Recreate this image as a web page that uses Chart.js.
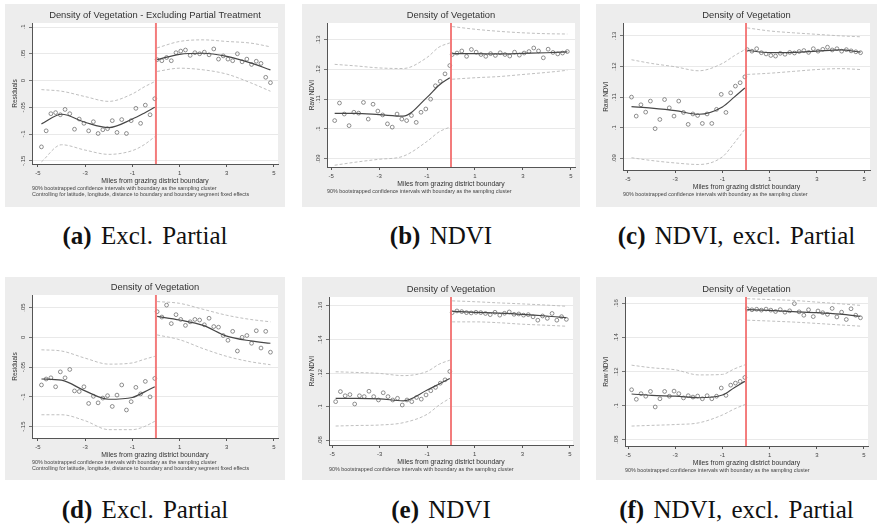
<!DOCTYPE html>
<html>
<head>
<meta charset="utf-8">
<script src="https://cdn.jsdelivr.net/npm/chart.js@4.4.1/dist/chart.umd.min.js"></script>
<style>
  body { margin: 0; background: #fff; width: 877px; height: 526px; position: relative; overflow: hidden; }
  .panel { position: absolute; background: #ededed; }
  .panel canvas { position: absolute; left: 0; top: 0; }
  .cap { position: absolute; font-family: "Liberation Serif", "DejaVu Serif", serif; font-size: 25px; color: #111;
         text-align: center; white-space: nowrap; line-height: 28px; height: 28px; word-spacing: 3px; }
</style>
</head>
<body>
<script>
// bins (miles from boundary) for the scatter points
const milesLeft = [-4.85,-4.65,-4.45,-4.25,-4.05,-3.85,-3.65,-3.45,-3.25,-3.05,-2.85,-2.65,-2.45,-2.25,-2.05,-1.85,-1.65,-1.45,-1.25,-1.05,-0.85,-0.65,-0.45,-0.25,-0.05];
const milesRight = [0.05,0.25,0.45,0.65,0.85,1.05,1.25,1.45,1.65,1.85,2.05,2.25,2.45,2.65,2.85,3.05,3.25,3.45,3.65,3.85,4.05,4.25,4.45,4.65,4.85];
// where the smoothed fit and its bands are read
const fitMilesLeft = [-4.85,-4,-3,-2,-1,-0.5,-0.05];
const fitMilesRight = [0.05,1,2,3,4,4.85];
const xTicks = [-5,-3,-1,1,3,5];
const xTickLabels = ["-5","-3","-1","1","3","5"];

const residTicksA = [0.1,0.05,0,-0.05,-0.1,-0.15];
const residLabelsA = [".1",".05","0","-.05","-.1","-.15"];
const residTicksD = [0.05,0,-0.05,-0.1,-0.15];
const residLabelsD = [".05","0","-.05","-.1","-.15"];
const ndviTicksBC = [0.13,0.12,0.11,0.1,0.09];
const ndviLabelsBC = [".13",".12",".11",".1",".09"];
const ndviTicksEF = [0.16,0.14,0.12,0.1,0.08];
const ndviLabelsEF = [".16",".14",".12",".1",".08"];

// (a)
const aPtsL = [-0.124,-0.094,-0.062,-0.060,-0.064,-0.054,-0.062,-0.091,-0.072,-0.080,-0.094,-0.077,-0.099,-0.092,-0.090,-0.075,-0.097,-0.073,-0.099,-0.075,-0.052,-0.080,-0.046,-0.064,-0.034];
const aPtsR = [0.039,0.037,0.043,0.037,0.052,0.055,0.057,0.047,0.052,0.050,0.053,0.048,0.059,0.040,0.046,0.040,0.037,0.050,0.035,0.040,0.030,0.036,0.032,0.006,-0.004];
const aFitL = [-0.081,-0.063,-0.078,-0.088,-0.072,-0.061,-0.050];
const aFitR = [0.039,0.049,0.051,0.045,0.033,0.020];
const aHiL = [-0.017,-0.020,-0.030,-0.039,-0.025,-0.012,-0.002];
const aHiR = [0.061,0.073,0.076,0.073,0.070,0.063];
const aLoL = [-0.152,-0.120,-0.130,-0.138,-0.131,-0.120,-0.105];
const aLoR = [0.017,0.023,0.020,0.012,-0.004,-0.020];
// (b)
const bPtsL = [0.1028,0.1087,0.1050,0.1011,0.1056,0.1053,0.1089,0.1033,0.1083,0.1060,0.1047,0.1017,0.1006,0.1050,0.1033,0.1028,0.1045,0.1022,0.1056,0.1067,0.1100,0.1145,0.1160,0.1185,0.1213];
const bPtsR = [0.1250,0.1255,0.1262,0.1244,0.1267,0.1258,0.1250,0.1244,0.1253,0.1247,0.1256,0.1250,0.1245,0.1258,0.1248,0.1255,0.1260,0.1272,0.1262,0.1239,0.1268,0.1257,0.1252,0.1255,0.1260];
const bFitL = [0.1052,0.1052,0.1048,0.1043,0.1106,0.1147,0.1172];
const bFitR = [0.1253,0.1253,0.1252,0.1254,0.1256,0.1259];
const bHiL = [0.1217,0.1212,0.1205,0.1203,0.1240,0.1275,0.1289];
const bHiR = [0.1344,0.1335,0.1328,0.1323,0.1320,0.1319];
const bLoL = [0.0878,0.0888,0.0898,0.0908,0.0958,0.0990,0.1006];
const bLoR = [0.1167,0.1172,0.1176,0.1183,0.1190,0.1197];
// (c)
const cPtsL = [0.1100,0.1038,0.1075,0.1051,0.1087,0.0997,0.1027,0.1092,0.1065,0.1038,0.1087,0.1050,0.1011,0.1045,0.1040,0.1014,0.1045,0.1014,0.1060,0.1109,0.1050,0.1114,0.1136,0.1147,0.1166];
const cPtsR = [0.1255,0.1250,0.1258,0.1245,0.1241,0.1236,0.1234,0.1243,0.1240,0.1246,0.1244,0.1249,0.1252,0.1246,0.1258,0.1250,0.1256,0.1263,0.1254,0.1258,0.1250,0.1255,0.1251,0.1248,0.1245];
const cFitL = [0.1069,0.1064,0.1056,0.1044,0.1068,0.1100,0.1130];
const cFitR = [0.1253,0.1245,0.1246,0.1250,0.1254,0.1247];
const cHiL = [0.1222,0.1210,0.1199,0.1186,0.1210,0.1235,0.1255];
const cHiR = [0.1326,0.1316,0.1310,0.1305,0.1300,0.1297];
const cLoL = [0.0902,0.0893,0.0885,0.0880,0.0905,0.0950,0.0995];
const cLoR = [0.1174,0.1178,0.1184,0.1190,0.1193,0.1190];
// (d)
const dPtsL = [-0.080,-0.070,-0.068,-0.083,-0.058,-0.068,-0.054,-0.090,-0.091,-0.083,-0.111,-0.099,-0.110,-0.102,-0.098,-0.116,-0.097,-0.080,-0.122,-0.108,-0.084,-0.095,-0.074,-0.100,-0.069];
const dPtsR = [0.043,0.034,0.054,0.023,0.038,0.030,0.020,0.026,0.030,0.029,0.021,0.032,0.018,0.017,0.003,-0.005,0.010,-0.023,0.000,0.003,-0.010,0.011,-0.018,0.010,-0.025];
const dFitL = [-0.070,-0.072,-0.090,-0.104,-0.101,-0.092,-0.083];
const dFitR = [0.035,0.029,0.020,0.002,-0.006,-0.010];
const dHiL = [-0.021,-0.023,-0.035,-0.045,-0.043,-0.037,-0.032];
const dHiR = [0.060,0.057,0.047,0.037,0.030,0.026];
const dLoL = [-0.130,-0.130,-0.140,-0.155,-0.155,-0.150,-0.141];
const dLoR = [0.004,-0.004,-0.019,-0.032,-0.041,-0.046];
// (e)
const ePtsL = [0.1030,0.1090,0.1065,0.1072,0.1016,0.1065,0.1060,0.1092,0.1060,0.1040,0.1083,0.1060,0.1040,0.1050,0.1010,0.1040,0.1030,0.1055,0.1045,0.1070,0.1095,0.1115,0.1140,0.1160,0.1210];
const ePtsR = [0.1560,0.1570,0.1566,0.1560,0.1558,0.1562,0.1560,0.1555,0.1548,0.1562,0.1545,0.1556,0.1564,0.1550,0.1552,0.1545,0.1548,0.1535,0.1515,0.1540,0.1526,0.1555,0.1515,0.1536,0.1520];
const eFitL = [0.1050,0.1050,0.1047,0.1035,0.1099,0.1135,0.1168];
const eFitR = [0.1568,0.1562,0.1557,0.1550,0.1540,0.1529];
const eHiL = [0.1208,0.1204,0.1198,0.1185,0.1210,0.1253,0.1277];
const eHiR = [0.1630,0.1625,0.1618,0.1612,0.1605,0.1598];
const eLoL = [0.0885,0.0888,0.0891,0.0905,0.0955,0.1010,0.1050];
const eLoR = [0.1505,0.1505,0.1500,0.1491,0.1485,0.1479];
// (f)
const fPtsL = [0.1093,0.1037,0.1070,0.1055,0.1083,0.0992,0.1040,0.1083,0.1055,0.1085,0.1070,0.1045,0.1058,0.1050,0.1056,0.1040,0.1058,0.1040,0.1055,0.1103,0.1060,0.1120,0.1132,0.1142,0.1165];
const fPtsR = [0.1567,0.1562,0.1565,0.1560,0.1566,0.1560,0.1552,0.1563,0.1548,0.1556,0.1598,0.1550,0.1530,0.1562,0.1522,0.1555,0.1545,0.1535,0.1570,0.1520,0.1548,0.1505,0.1568,0.1530,0.1515];
const fFitL = [0.1068,0.1060,0.1055,0.1046,0.1062,0.1105,0.1142];
const fFitR = [0.1563,0.1558,0.1551,0.1545,0.1536,0.1524];
const fHiL = [0.1237,0.1222,0.1210,0.1180,0.1183,0.1215,0.1239];
const fHiR = [0.1627,0.1622,0.1617,0.1607,0.1597,0.1588];
const fLoL = [0.0880,0.0884,0.0889,0.0899,0.0945,0.0980,0.1006];
const fLoR = [0.1501,0.1496,0.1490,0.1482,0.1473,0.1466];

const noteCI = "90% bootstrapped confidence intervals with boundary as the sampling cluster";
const noteCtrl = "Controlling for latitude, longitude, distance to boundary and boundary segment fixed effects";

const panels = [
  { cap: "(a)", capText: "Excl. Partial", title: "Density of Vegetation - Excluding Partial Treatment", ytitle: "Residuals",
    box: [5, 4, 280, 203], plot: [32, 23, 278, 164], x: [-5.25, 5.17], y: [-0.156, 0.1075],
    yt: residTicksA, yl: residLabelsA, notes: [noteCI, noteCtrl],
    pl: aPtsL, pr: aPtsR, fl: aFitL, fr: aFitR, hl: aHiL, hr: aHiR, ll: aLoL, lr: aLoR },
  { cap: "(b)", capText: "NDVI", title: "Density of Vegetation", ytitle: "Raw NDVI",
    box: [302, 4, 278, 203], plot: [327, 23, 575, 167], x: [-5.17, 5.17], y: [0.0872, 0.1356],
    yt: ndviTicksBC, yl: ndviLabelsBC, notes: [noteCI],
    pl: bPtsL, pr: bPtsR, fl: bFitL, fr: bFitR, hl: bHiL, hr: bHiR, ll: bLoL, lr: bLoR },
  { cap: "(c)", capText: "NDVI, excl. Partial", title: "Density of Vegetation", ytitle: "Raw NDVI",
    box: [596, 4, 281, 203], plot: [623, 23, 870, 170], x: [-5.21, 5.25], y: [0.0862, 0.1342],
    yt: ndviTicksBC, yl: ndviLabelsBC, notes: [noteCI],
    pl: cPtsL, pr: cPtsR, fl: cFitL, fr: cFitR, hl: cHiL, hr: cHiR, ll: cLoL, lr: cLoR },
  { cap: "(d)", capText: "Excl. Partial", title: "Density of Vegetation", ytitle: "Residuals",
    box: [5, 277, 280, 203], plot: [32, 295, 278, 438], x: [-5.25, 5.17], y: [-0.169, 0.071],
    yt: residTicksD, yl: residLabelsD, notes: [noteCI, noteCtrl],
    pl: dPtsL, pr: dPtsR, fl: dFitL, fr: dFitR, hl: dHiL, hr: dHiR, ll: dLoL, lr: dLoR },
  { cap: "(e)", capText: "NDVI", title: "Density of Vegetation", ytitle: "Raw NDVI",
    box: [302, 277, 278, 203], plot: [329, 297, 573, 445], x: [-5.13, 5.13], y: [0.0772, 0.1653],
    yt: ndviTicksEF, yl: ndviLabelsEF, notes: [noteCI],
    pl: ePtsL, pr: ePtsR, fl: eFitL, fr: eFitR, hl: eHiL, hr: eHiR, ll: eLoL, lr: eLoR },
  { cap: "(f)", capText: "NDVI, excl. Partial", title: "Density of Vegetation", ytitle: "Raw NDVI",
    box: [596, 277, 281, 203], plot: [625, 297, 868, 446], x: [-5.13, 5.17], y: [0.0763, 0.1637],
    yt: ndviTicksEF, yl: ndviLabelsEF, notes: [noteCI],
    pl: fPtsL, pr: fPtsR, fl: fFitL, fr: fFitR, hl: fHiL, hr: fHiR, ll: fLoL, lr: fLoR },
];

const FONT = '"Liberation Sans", Arial, sans-serif';
const X_AXIS_H = 22;
const PAD_L = 4;

function pts(xs, ys) {
  return xs.map((x, i) => ({ x: x, y: ys[i] }));
}

// white plot region, rotated y labels (Stata style), title and notes
const stataText = {
  id: "stataText",
  beforeDraw(chart) {
    const { ctx, chartArea: a } = chart;
    ctx.save();
    ctx.fillStyle = "#fff";
    ctx.fillRect(a.left, a.top, a.right - a.left, a.bottom - a.top);
    ctx.restore();
  },
  afterDraw(chart, args, opts) {
    const { ctx, chartArea: a } = chart;
    const ys = chart.scales.y;
    ctx.save();
    ctx.fillStyle = "#444";
    ctx.font = "6px " + FONT;
    ctx.textAlign = "center";
    ctx.textBaseline = "middle";
    opts.yt.forEach((v, i) => {
      ctx.save();
      ctx.translate(a.left - 8.5, ys.getPixelForValue(v));
      ctx.rotate(-Math.PI / 2);
      ctx.fillText(opts.yl[i], 0, 0);
      ctx.restore();
    });
    ctx.fillStyle = "#333";
    ctx.font = "9.4px " + FONT;
    ctx.fillText(opts.title, (a.left + a.right) / 2, a.top - 8);
    ctx.textAlign = "left";
    ctx.fillStyle = "#444";
    ctx.font = "5.4px " + FONT;
    opts.notes.forEach((t, i) => ctx.fillText(t, a.left, a.bottom + 25 + i * 6));
    ctx.restore();
  }
};

function lineSet(data, color, width, dash) {
  return {
    data: data, showLine: true, pointRadius: 0, borderColor: color, borderWidth: width,
    borderDash: dash, cubicInterpolationMode: "monotone", fill: false
  };
}

panels.forEach((p) => {
  const [bx, by, bw, bh] = p.box;
  const [pl, pt, pr, pb] = p.plot;
  const div = document.createElement("div");
  div.className = "panel";
  div.style.left = bx + "px";
  div.style.top = by + "px";
  div.style.width = bw + "px";
  div.style.height = bh + "px";
  const canvas = document.createElement("canvas");
  canvas.width = bw;
  canvas.height = bh;
  div.appendChild(canvas);
  document.body.appendChild(div);

  const cap = document.createElement("div");
  cap.className = "cap";
  cap.style.left = bx + "px";
  cap.style.width = bw + "px";
  cap.style.top = (by < 100 ? 222 : 496) + "px";
  cap.innerHTML = "<b>" + p.cap + "</b> " + p.capText;
  document.body.appendChild(cap);

  const yW = pl - bx - PAD_L;
  const dashed = [3, 2];
  new Chart(canvas, {
    type: "scatter",
    data: {
      datasets: [
        { data: [{ x: 0, y: p.y[0] }, { x: 0, y: p.y[1] }], showLine: true, pointRadius: 0,
          borderColor: "rgba(242,110,110,0.9)", borderWidth: 2 },
        lineSet(pts(fitMilesLeft, p.fl), "#474747", 1.2, []),
        lineSet(pts(fitMilesRight, p.fr), "#474747", 1.2, []),
        { data: pts(milesLeft, p.pl), pointRadius: 1.9, pointBorderWidth: 0.7,
          pointBorderColor: "#606060", pointBackgroundColor: "rgba(0,0,0,0)" },
        { data: pts(milesRight, p.pr), pointRadius: 1.9, pointBorderWidth: 0.7,
          pointBorderColor: "#606060", pointBackgroundColor: "rgba(0,0,0,0)" },
        lineSet(pts(fitMilesLeft, p.hl), "#c0c0c0", 1, dashed),
        lineSet(pts(fitMilesRight, p.hr), "#c0c0c0", 1, dashed),
        lineSet(pts(fitMilesLeft, p.ll), "#c0c0c0", 1, dashed),
        lineSet(pts(fitMilesRight, p.lr), "#c0c0c0", 1, dashed)
      ]
    },
    options: {
      responsive: false,
      animation: false,
      devicePixelRatio: 1,
      events: [],
      layout: { padding: { left: PAD_L, top: pt - by, right: bx + bw - pr, bottom: by + bh - pb - X_AXIS_H } },
      plugins: {
        legend: { display: false },
        tooltip: { enabled: false },
        stataText: { yt: p.yt, yl: p.yl, title: p.title, notes: p.notes }
      },
      scales: {
        x: {
          type: "linear", min: p.x[0], max: p.x[1],
          afterBuildTicks: (s) => { s.ticks = xTicks.map((v) => ({ value: v })); },
          afterFit: (s) => { s.height = X_AXIS_H; },
          ticks: { autoSkip: false, maxRotation: 0, padding: 2.4, color: "#444",
                   font: { size: 6, family: FONT },
                   callback: (v) => xTickLabels[xTicks.indexOf(v)] },
          grid: { drawOnChartArea: false, drawTicks: true, tickLength: 3, tickColor: "#555" },
          border: { color: "#555", width: 1 },
          title: { display: true, text: "Miles from grazing district boundary", color: "#333",
                   font: { size: 6.8, family: FONT }, padding: { top: 0, bottom: 1 } }
        },
        y: {
          type: "linear", min: p.y[0], max: p.y[1],
          afterBuildTicks: (s) => { s.ticks = p.yt.map((v) => ({ value: v })); },
          afterFit: (s) => { s.width = yW; },
          ticks: { display: false },
          grid: { color: "#e3e3e3", lineWidth: 0.8, drawTicks: true, tickLength: 3, tickColor: "#555" },
          border: { color: "#555", width: 1 },
          title: { display: true, text: p.ytitle, color: "#333",
                   font: { size: 6.5, family: FONT }, padding: { top: 2, bottom: 0 } }
        }
      }
    },
    plugins: [stataText]
  });
});
</script>
</body>
</html>
